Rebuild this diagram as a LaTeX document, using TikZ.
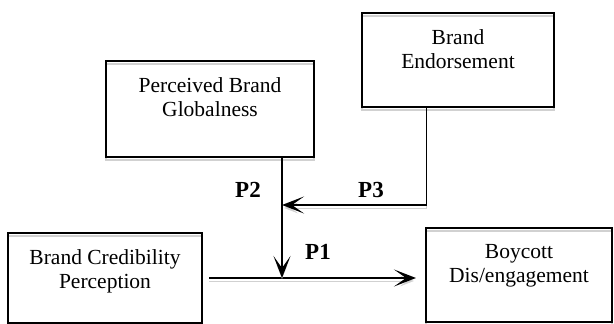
\documentclass[tikz,border=0pt]{standalone}
\usepackage{fontspec}
\setmainfont{Liberation Serif}
\usetikzlibrary{arrows.meta, positioning, calc}

\tikzset{
  ghost/.style={preaction={draw=black!18, transform canvas={yshift=-3pt}}},
  box/.style={draw, line width=2pt, inner sep=0pt},
  boxtext/.style={align=center, inner sep=0pt, font=\fontsize{21.5}{24.5}\selectfont},
  arr/.style={line width=2pt, -{Stealth[length=22pt, width=17pt, inset=12pt]}},
  thinline/.style={line width=1pt},
  plabel/.style={inner sep=0pt, font=\fontsize{23}{26}\selectfont\bfseries},
}

\begin{document}
\begin{tikzpicture}[x=1pt, y=-1pt]
  \useasboundingbox (0,0) rectangle (614,324);

  % Boxes
  \node[box, ghost, minimum width=208pt, minimum height=96pt] (glob) at (210,109) {};
  \node[box, ghost, minimum width=192pt, minimum height=94pt] (endo) at (458,60) {};
  \node[box, ghost, minimum width=194pt, minimum height=90pt] (cred) at (105,278) {};
  \node[box, ghost, minimum width=186pt, minimum height=94pt] (boyc) at (519,275) {};

  % Box texts
  \node[boxtext, below=17pt of glob.north] (globtxt) {Perceived Brand\\Globalness};
  \node[boxtext, below=17pt of endo.north] (endotxt) {Brand\\Endorsement};
  \node[boxtext, below=17pt of cred.north] (credtxt) {Brand Credibility\\Perception};
  \node[boxtext, below=17pt of boyc.north] (boyctxt) {Boycott\\Dis/engagement};

  % Junctions on the paths
  \coordinate (junc) at (282,278);
  \coordinate (modp) at (282,205);
  \coordinate (endout) at ([xshift=-31.5pt]endo.south);

  % Connectors
  \draw[arr, ghost, shorten <=6pt, shorten >=9pt] (cred.east) -- (cred.east -| boyc.west);
  \draw[arr, ghost] (glob.south -| junc) -- (junc);
  \draw[thinline, ghost] (endout) -- (endout |- modp);
  \draw[arr, ghost] (endout |- modp) -- (modp);

  % Path labels
  \node[plabel] (ptwo) at (248,190) {P2};
  \node[plabel] (pthree) at (371,190) {P3};
  \node[plabel] (pone) at (318,252) {P1};
\end{tikzpicture}
\end{document}
